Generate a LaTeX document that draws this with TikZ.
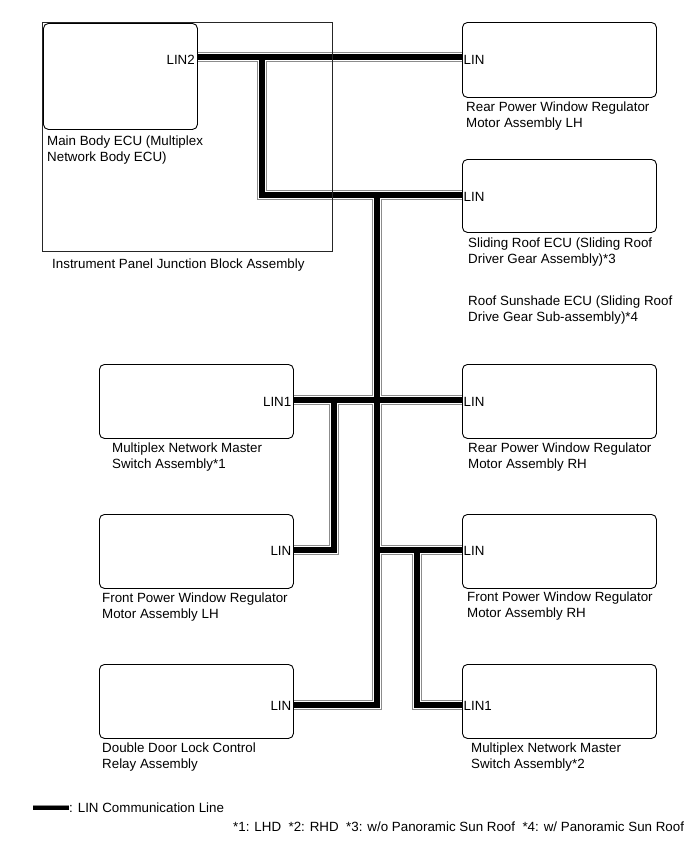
\documentclass[tikz,border=0pt]{standalone}
\usepackage{fontspec}
\setmainfont{Liberation Sans}
\newcommand\lblfont{\fontsize{13.35}{16}\selectfont}
\newcommand\linroutes[1]{%
  \draw[#1] (p-ecu) -- (p-rpwlh);
  \draw[#1] (j1) |- (p-sr);
  \draw[#1] (j2) |- (p-ddl);
  \draw[#1] (p-mns1) -- (p-rpwrh);
  \draw[#1] (j3) |- (p-fpwlh);
  \draw[#1] (j4) -- (p-fpwrh);
  \draw[#1] (j5) |- (p-mns2);
}
\begin{document}
\begin{tikzpicture}[x=1pt,y=-1pt,
  box/.style={draw=black, line width=0.9pt, rounded corners=5pt, inner sep=0pt, anchor=north west},
  port/.style={font=\lblfont, inner sep=0pt},
  lbl/.style={font=\lblfont, inner sep=0pt, anchor=north west, align=left},
  cableA/.style={draw=black!45, line width=10.5pt, line cap=butt, line join=miter},
  cableB/.style={draw=white, line width=8pt, line cap=butt, line join=miter},
  cableC/.style={draw=black, line width=5.5pt, line cap=butt, line join=miter},
  lgA/.style={draw=black!45, line width=6.5pt},
  lgB/.style={draw=white, line width=5pt},
  lgC/.style={draw=black, line width=3.4pt}]
\useasboundingbox (0,0) rectangle (691,855);

% boxes
\node[box, minimum width=154pt, minimum height=106pt] (ecu)   at (43,23)  {};
\node[box, minimum width=194pt, minimum height=75pt]  (rpwlh) at (462,22) {};
\node[box, minimum width=194pt, minimum height=73pt]  (sr)    at (462,159) {};
\node[box, minimum width=194pt, minimum height=74pt]  (rpwrh) at (462,364) {};
\node[box, minimum width=194pt, minimum height=74pt]  (fpwrh) at (462,514) {};
\node[box, minimum width=194pt, minimum height=74pt]  (mns2)  at (462,664) {};
\node[box, minimum width=194pt, minimum height=74pt]  (mns1)  at (99,364) {};
\node[box, minimum width=194pt, minimum height=74pt]  (fpwlh) at (99,514) {};
\node[box, minimum width=194pt, minimum height=74pt]  (ddl)   at (99,664) {};

% ports on box borders
\coordinate (p-ecu)   at (ecu.east |- 0,57);
\coordinate (p-rpwlh) at (rpwlh.west |- 0,57);
\coordinate (p-sr)    at (sr.west |- 0,195);
\coordinate (p-mns1)  at (mns1.east |- 0,400);
\coordinate (p-rpwrh) at (rpwrh.west |- 0,400);
\coordinate (p-fpwlh) at (fpwlh.east |- 0,550);
\coordinate (p-fpwrh) at (fpwrh.west |- 0,550);
\coordinate (p-ddl)   at (ddl.east |- 0,705);
\coordinate (p-mns2)  at (mns2.west |- 0,705);
% junctions
\coordinate (j1) at (262,57);
\coordinate (j2) at (377,195);
\coordinate (j3) at (334,400);
\coordinate (j4) at (377,550);
\coordinate (j5) at (417,550);

\linroutes{cableA}
\linroutes{cableB}
\linroutes{cableC}

% junction block outline
\node[draw=black!85, line width=0.9pt, minimum width=290pt, minimum height=229pt, inner sep=0pt, anchor=north west] (jb) at (42,22) {};

% port labels
\node[port, anchor=east] (l-ecu)   at (195,60)  {LIN2};
\node[port, anchor=west] (l-rpwlh) at (463.5,60)  {LIN};
\node[port, anchor=west] (l-sr)    at (463.5,197) {LIN};
\node[port, anchor=west] (l-rpwrh) at (463.5,402) {LIN};
\node[port, anchor=west] (l-fpwrh) at (463.5,551) {LIN};
\node[port, anchor=west] (l-mns2)  at (463.5,706) {LIN1};
\node[port, anchor=east] (l-mns1)  at (291.5,402) {LIN1};
\node[port, anchor=east] (l-fpwlh) at (291.5,551) {LIN};
\node[port, anchor=east] (l-ddl)   at (291.5,706) {LIN};

% names
\node[lbl] (t-ecu)   at (47,134.8)  {\rule{0pt}{10pt}Main Body ECU (Multiplex\\Network Body ECU)};
\node[lbl] (t-jb)    at (52,257.8)  {\rule{0pt}{10pt}Instrument Panel Junction Block Assembly};
\node[lbl] (t-rpwlh) at (466,100.8) {\rule{0pt}{10pt}Rear Power Window Regulator\\Motor Assembly LH};
\node[lbl] (t-sr)    at (468,236.8) {\rule{0pt}{10pt}Sliding Roof ECU (Sliding Roof\\Driver Gear Assembly)*3};
\node[lbl] (t-ss)    at (468,294.8) {\rule{0pt}{10pt}Roof Sunshade ECU (Sliding Roof\\Drive Gear Sub-assembly)*4};
\node[lbl] (t-rpwrh) at (468,441.8) {\rule{0pt}{10pt}Rear Power Window Regulator\\Motor Assembly RH};
\node[lbl] (t-fpwrh) at (467,590.8) {\rule{0pt}{10pt}Front Power Window Regulator\\Motor Assembly RH};
\node[lbl] (t-mns2)  at (471,741.8) {\rule{0pt}{10pt}Multiplex Network Master\\Switch Assembly*2};
\node[lbl] (t-mns1)  at (112,441.8) {\rule{0pt}{10pt}Multiplex Network Master\\Switch Assembly*1};
\node[lbl] (t-fpwlh) at (102,591.8) {\rule{0pt}{10pt}Front Power Window Regulator\\Motor Assembly LH};
\node[lbl] (t-ddl)   at (102,741.8) {\rule{0pt}{10pt}Double Door Lock Control\\Relay Assembly};

% legend
\coordinate (lg1) at (33,808);
\coordinate (lg2) at (69,808);
\draw[lgA] (lg1) -- (lg2);
\draw[lgB] (lg1) -- (lg2);
\draw[lgC] (lg1) -- (lg2);
\node[port, anchor=west] (t-lg) at (lg2) {: LIN Communication Line};
\node[port, anchor=west] (t-fn) at (233,827) {*1: LHD~~*2: RHD~~*3: w/o Panoramic Sun Roof~~*4: w/ Panoramic Sun Roof};
\end{tikzpicture}
\end{document}
